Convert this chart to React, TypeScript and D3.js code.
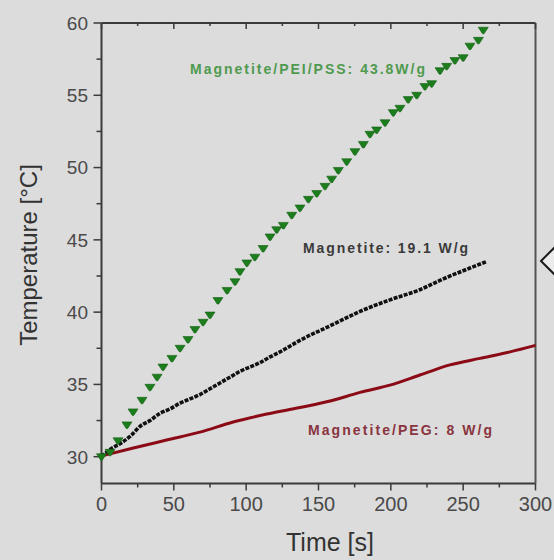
import React from 'react'
import * as d3 from 'd3'

// Magnetite/PEI/PSS (green triangles)
const pssTime = [0, 5.9, 11.4, 17.6, 21.8, 28, 33.5, 38.4, 42.5, 48.7, 54.3, 59.8, 64.6, 70.2, 75, 80.5, 86.8, 92.3, 95.7, 100.5, 106, 111.7, 116.5, 121.1, 125.7, 131.5, 137.2, 143, 148.8, 154.5, 159.1, 163.7, 169.5, 175.2, 181, 185.6, 190.2, 196, 201.7, 206.3, 212, 217.9, 223.6, 228.2, 234, 238.6, 244.3, 250, 254.7, 260.5, 263.9]
const pssTemp = [30.0, 30.3, 31.1, 32.2, 33.1, 33.9, 34.8, 35.5, 36.2, 36.8, 37.5, 38.1, 38.8, 39.3, 39.8, 40.8, 41.5, 42.1, 42.8, 43.4, 43.8, 44.4, 45.2, 45.7, 46.0, 46.7, 47.2, 47.8, 48.2, 48.7, 49.2, 49.8, 50.4, 51.1, 51.6, 52.3, 52.6, 53.1, 53.8, 54.1, 54.7, 55.0, 55.6, 55.8, 56.7, 57.0, 57.4, 57.6, 58.4, 58.8, 59.5]

// Magnetite (black)
const magTime = [0, 5.9, 12.8, 19.7, 26.6, 33.5, 40.4, 47.3, 54.3, 61.2, 68.1, 75, 81.9, 88.8, 95.7, 102.6, 109.5, 116.5, 123.4, 137.2, 158, 178.7, 199.4, 220.1, 236.3, 254.7, 266.2]
const magTemp = [30.0, 30.5, 30.9, 31.4, 32.1, 32.5, 33.0, 33.3, 33.7, 34.0, 34.3, 34.7, 35.1, 35.5, 35.9, 36.2, 36.5, 36.9, 37.25, 38.05, 39.05, 40.05, 40.85, 41.55, 42.3, 43.05, 43.5]

// Magnetite/PEG (dark red)
const pegTime = [0, 22, 45, 68, 91, 114.2, 137.2, 158, 178.7, 199.4, 220.1, 240.9, 261.6, 282.4, 300]
const pegTemp = [30.05, 30.6, 31.15, 31.7, 32.4, 32.95, 33.4, 33.85, 34.45, 34.95, 35.65, 36.35, 36.8, 37.25, 37.7]

const xTicks = [0, 50, 100, 150, 200, 250, 300]
const xMinor = [25, 75, 125, 175, 225, 275]
const yTicks = [30, 35, 40, 45, 50, 55, 60]
const yMinor = [32.5, 37.5, 42.5, 47.5, 52.5, 57.5]

const labels = [
  { text: 'Magnetite/PEI/PSS: 43.8W/g', x: 190, y: 74, w: 235, color: '#4f9a4f' },
  { text: 'Magnetite: 19.1 W/g', x: 303, y: 253, w: 165, color: '#3a3a3a' },
  { text: 'Magnetite/PEG: 8 W/g', x: 308, y: 435, w: 184, color: '#8a3440' }
]

const font = '"Liberation Sans", Arial, sans-serif'

export default function App () {
  const x = d3.scaleLinear().domain([0, 300]).range([101.5, 535.5])
  const y = d3.scaleLinear().domain([30, 60]).range([456.7, 23])
  const bottom = y(28.15)
  const top = y(60)

  const line = d3.line<number>()
    .x((d, i) => x(magTime[i]))
    .y(d => y(d))
    .curve(d3.curveMonotoneX)
  const pegLine = d3.line<number>()
    .x((d, i) => x(pegTime[i]))
    .y(d => y(d))
    .curve(d3.curveMonotoneX)

  const tri = 'M-5,-3L5,-3L0.8,3.5L-0.8,3.5Z'

  return (
    <svg width={554} height={560} style={{ position: 'absolute', left: 0, top: 0 }} fontFamily={font}>
      <rect width={554} height={560} fill='#dcdcdc' />

      {/* axes frame */}
      <g stroke='#3a3a3a' strokeWidth={2} fill='none'>
        <line x1={x(0)} x2={x(300)} y1={top} y2={top} />
        <line x1={x(0)} x2={x(300)} y1={bottom} y2={bottom} />
        <line x1={x(0)} x2={x(0)} y1={top} y2={bottom} />
        <line x1={x(300)} x2={x(300)} y1={top} y2={bottom} stroke='#555' />
      </g>

      {/* ticks */}
      <g stroke='#3a3a3a' strokeWidth={1.5}>
        {yTicks.map(t => <line key={'y' + t} x1={x(0) - 8} x2={x(0)} y1={y(t)} y2={y(t)} />)}
        {yMinor.map(t => <line key={'ym' + t} x1={x(0) - 5} x2={x(0)} y1={y(t)} y2={y(t)} />)}
        {xTicks.map(t => <line key={'x' + t} x1={x(t)} x2={x(t)} y1={bottom} y2={bottom + 7} />)}
        {xMinor.map(t => <line key={'xm' + t} x1={x(t)} x2={x(t)} y1={bottom} y2={bottom + 4} />)}
        {xTicks.map(t => <line key={'xt' + t} x1={x(t)} x2={x(t)} y1={top} y2={top + 6} />)}
        {xMinor.map(t => <line key={'xtm' + t} x1={x(t)} x2={x(t)} y1={top} y2={top + 3} />)}
      </g>

      <g fill='#4a4a4a' fontSize={19}>
        {yTicks.map(t => (
          <text key={'yl' + t} x={88} y={y(t)} dy='0.36em' textAnchor='end'>{t}</text>
        ))}
        {xTicks.map(t => (
          <text key={'xl' + t} x={x(t)} y={511} fontSize={20} textAnchor='middle'>{t}</text>
        ))}
      </g>

      <text x={330} y={551} fontSize={25} fill='#333' textAnchor='middle'>Time [s]</text>
      <text transform='translate(37,255) rotate(-90)' fontSize={24} fill='#333' textAnchor='middle'>Temperature [°C]</text>

      {/* red series */}
      <path d={pegLine(pegTemp) || ''} fill='none' stroke='#8b0a16' strokeWidth={3} />

      {/* black series */}
      <path d={line(magTemp) || ''} fill='none' stroke='#111' strokeWidth={3.6} strokeDasharray='4 1.3' />

      {/* green triangles */}
      <g fill='#1b7d1b' stroke='#136013' strokeWidth={0.6}>
        {pssTemp.map((t, i) => (
          <path key={'g' + i} d={tri} transform={`translate(${x(pssTime[i])},${y(t)})`} />
        ))}
      </g>

      {labels.map(l => (
        <text key={l.text} x={l.x} y={l.y} fontSize={14} fontWeight='bold' fill={l.color}
          textLength={l.w} lengthAdjust='spacing'>{l.text}</text>
      ))}

      {/* cropped callout diamond at right edge */}
      <path d='M556,246L541,261L556,276' fill='#ebebeb' stroke='#1a1a1a' strokeWidth={2} />
    </svg>
  )
}
